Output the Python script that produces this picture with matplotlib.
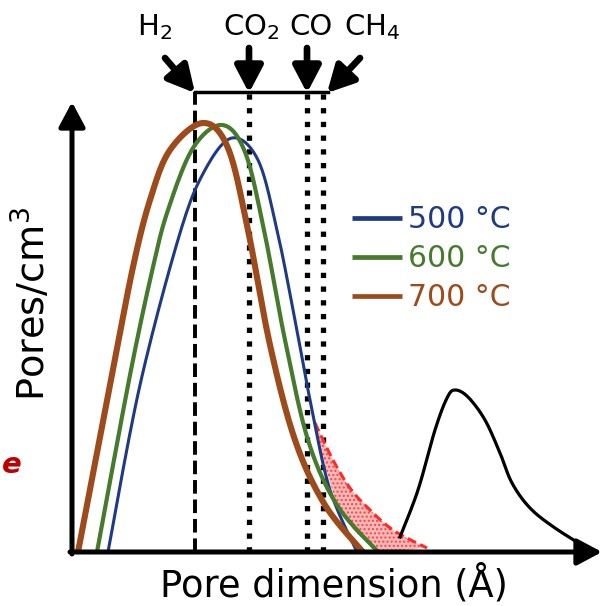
import numpy as np
import matplotlib
matplotlib.use("Agg")
import matplotlib.pyplot as plt

# values (arbitrary units, origin at axis corner)
blue_x = [36, 68, 108, 133, 160, 186, 205, 223, 240, 258, 285]
blue_y = [0, 167, 319, 382, 414, 392, 322, 232, 142, 62, 0]

green_x = [25, 58, 81, 96, 121, 150, 173, 192, 213, 236, 265, 306]
green_y = [0, 177, 285, 342, 404, 427, 400, 322, 212, 112, 47, 0]

brown_x = [6, 40, 61, 78, 98, 131, 156, 176, 198, 223, 253, 291]
brown_y = [0, 177, 285, 352, 402, 429, 404, 322, 207, 112, 47, 0]

black_x = [328, 346, 363, 375, 383, 396, 413, 428, 440, 458, 483, 518]
black_y = [15, 62, 122, 154, 162, 155, 132, 99, 69, 44, 24, 2]

red_x = [243, 261, 278, 295, 321, 355]
red_y = [129, 92, 64, 45, 22, 4]
fill_left_x = [306, 283, 265, 250]
fill_left_y = [0, 20, 47, 95]

series_labels = ["500 °C", "600 °C", "700 °C"]
series_colors = ["#1f3a85", "#467a2c", "#9e4b1c"]

gas_labels = ["H$_2$", "CO$_2$", "CO", "CH$_4$"]
gas_pos = [123, 177, 235, 251]
line_top = 460


def smooth(x, y, n=20):
    # catmull-rom through the read points, only for drawing
    p = np.column_stack([x, y]).astype(float)
    p = np.vstack([p[0], p, p[-1]])
    out = []
    t = np.linspace(0, 1, n, endpoint=False)[:, None]
    for i in range(1, len(p) - 2):
        p0, p1, p2, p3 = p[i - 1], p[i], p[i + 1], p[i + 2]
        out.append(0.5 * ((2 * p1) + (-p0 + p2) * t + (2 * p0 - 5 * p1 + 4 * p2 - p3) * t**2
                          + (-p0 + 3 * p1 - 3 * p2 + p3) * t**3))
    out.append(p[-2][None, :])
    out = np.vstack(out)
    return out[:, 0], out[:, 1]


fig = plt.figure(figsize=(6.03, 6.06), dpi=100)
ax = fig.add_axes([0, 0, 1, 1])
ax.set_xlim(-72, 531)
ax.set_ylim(-54, 552)
ax.axis("off")

# shaded region
rx, ry = smooth(red_x, red_y)
ax.fill(list(rx) + fill_left_x, list(ry) + fill_left_y, facecolor="#f9b8b8",
        edgecolor="#f04848", hatch="....", linewidth=0, zorder=2)
ax.plot(rx, ry, color="#ff2a2a", lw=2.2, ls=(0, (3, 1.5)), zorder=3)

# gas lines
ax.plot([gas_pos[0], gas_pos[0]], [0, line_top], color="k", lw=2.8, ls=(0, (3.5, 1.5)), zorder=1)
for gx in gas_pos[1:]:
    ax.plot([gx, gx], [0, line_top], color="k", lw=3.8, ls=(0, (1, 1.6)),
            dash_capstyle="butt", zorder=1)
ax.plot([gas_pos[0], gas_pos[-1] + 5], [line_top, line_top], color="k", lw=2.5, zorder=1)

arrow_kw = dict(arrowstyle="-|>,head_length=0.8,head_width=0.42", color="k", lw=4.8,
                shrinkA=0, shrinkB=0, mutation_scale=20)
tails = [(93, 494), (177, 504), (235, 504), (288, 494)]
heads = [(123, 459), (177, 459), (235, 459), (255, 459)]
for t, h in zip(tails, heads):
    ax.annotate("", xy=h, xytext=t, arrowprops=arrow_kw, annotation_clip=False)

label_x = [83, 179, 239, 300]
for lab, lx in zip(gas_labels, label_x):
    ax.text(lx, 517, lab, ha="center", va="baseline", fontsize=21)

# distributions
for xs, ys, c, w in zip([blue_x, green_x, brown_x], [blue_y, green_y, brown_y],
                        series_colors, [2.2, 3.0, 4.4]):
    sx, sy = smooth(xs, ys)
    ax.plot(sx, sy, color=c, lw=w, solid_capstyle="butt", zorder=4)
bx, by = smooth(black_x, black_y)
ax.plot(bx, by, color="k", lw=2.3, zorder=4)

# axes with arrow heads
axis_kw = dict(arrowstyle="-|>,head_length=0.75,head_width=0.4", color="k", lw=3.6,
               shrinkA=0, shrinkB=0, mutation_scale=20)
ax.annotate("", xy=(0, 450), xytext=(0, -2), arrowprops=axis_kw, zorder=5)
ax.annotate("", xy=(530, 0), xytext=(-2, 0), arrowprops=axis_kw, zorder=5,
            annotation_clip=False)

# legend
for i, (lab, c) in enumerate(zip(series_labels, series_colors)):
    yy = 334 - i * 39
    ax.plot([280, 330], [yy, yy], color=c, lw=3.4, solid_capstyle="butt")
    ax.text(336, yy - 10, lab, color=c, fontsize=21.5, va="baseline")

ax.text(-40, 248, "Pores/cm$^3$", rotation=90, ha="center", va="center", fontsize=27.5)
ax.text(262, -33, "Pore dimension (Å)", ha="center", va="center", fontsize=26.5)
ax.text(-50, 79, "e", color="#c00000", fontsize=21, fontweight="bold", fontstyle="italic",
        ha="right", va="baseline")

plt.savefig("out.png", dpi=100)
